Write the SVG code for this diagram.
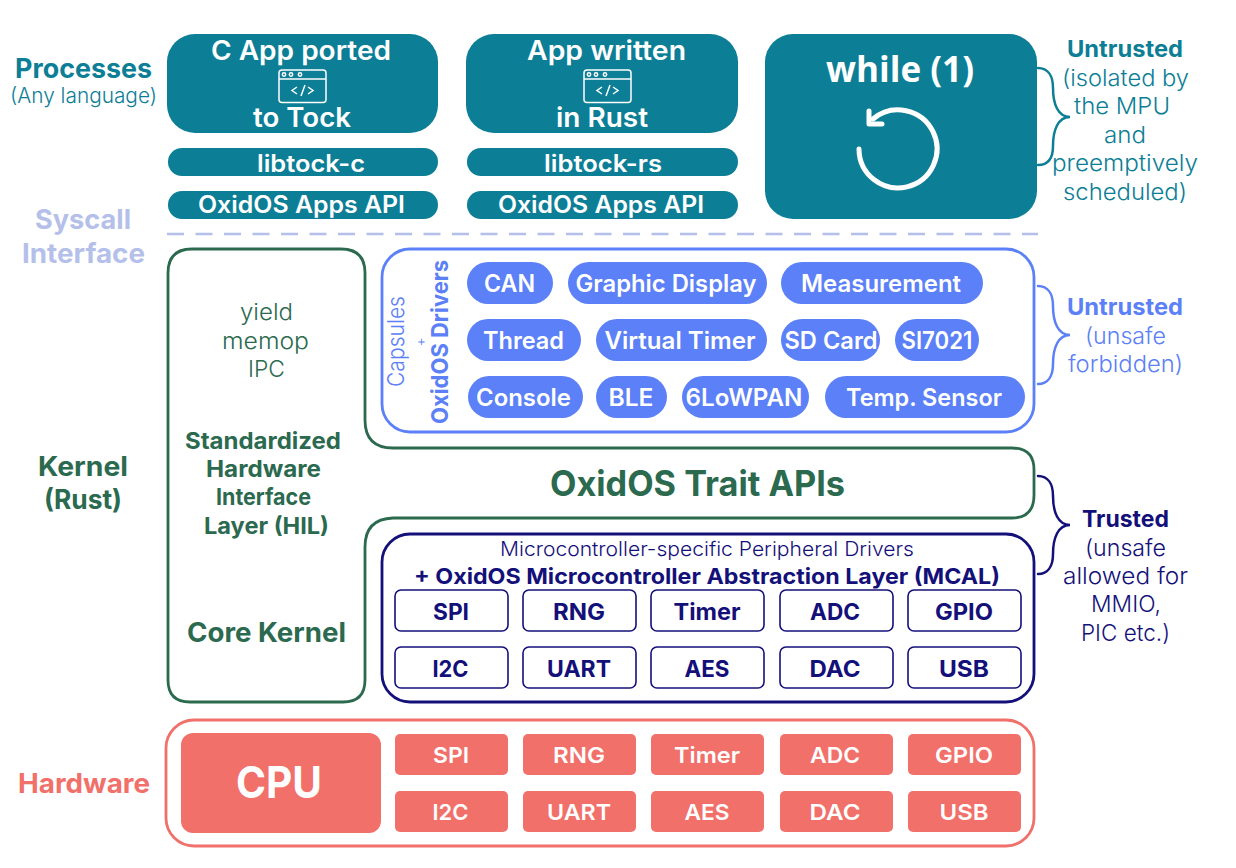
<svg xmlns="http://www.w3.org/2000/svg" width="1236" height="868" viewBox="0 0 1236 868">
<style>
text{font-family:"Inter","Lato","Liberation Sans",sans-serif;text-anchor:middle}
.b{font-weight:700}.s{font-weight:600}.l{font-weight:300}
.w{fill:#fff}
.teal{fill:#0c7e96}.blue{fill:#5b80f7}.navy{fill:#14107a}.green{fill:#2b6a4f}.red{fill:#f1706a}.peri{fill:#b5c0ea}
.f27{font-size:27px}.f24{font-size:24px}.f23{font-size:23px}.f22{font-size:22px}.f21{font-size:21px}
.box{fill:none;stroke-width:2.800}
.mb{fill:#fff;stroke:#14107a;stroke-width:1.600}
.brace{fill:none;stroke-width:2.500;stroke-linecap:round}
</style>
<rect width="1236" height="868" fill="#fff"/>

<g id="side-labels">
<text x="83.500" y="78" class="b teal f27" textLength="137" lengthAdjust="spacingAndGlyphs">Processes</text>
<text x="83.500" y="103" class="l teal f21" textLength="147" lengthAdjust="spacingAndGlyphs">(Any language)</text>
<text x="83" y="229" class="b peri f27" textLength="96" lengthAdjust="spacingAndGlyphs">Syscall</text>
<text x="83.500" y="262.500" class="b peri f27" textLength="123" lengthAdjust="spacingAndGlyphs">Interface</text>
<text x="83" y="475.500" class="b green f27" textLength="90" lengthAdjust="spacingAndGlyphs">Kernel</text>
<text x="83" y="508.500" class="b green f27" textLength="78" lengthAdjust="spacingAndGlyphs">(Rust)</text>
<text x="84" y="793" class="b red f27" textLength="132" lengthAdjust="spacingAndGlyphs">Hardware</text>
</g>

<g id="proc-c">
<rect x="167" y="34" width="271" height="99" rx="28" fill="#0c7e96"/>
<text x="301" y="60" class="s w f27" textLength="180" lengthAdjust="spacingAndGlyphs">C App ported</text>
<text x="302" y="127" class="s w f27" textLength="98" lengthAdjust="spacingAndGlyphs">to Tock</text>
<g fill="none" stroke="#fff" stroke-width="1.500"><rect x="279" y="70" width="47" height="32.500" rx="3"/><path d="M279 79H326"/><circle cx="284" cy="74.500" r="1.700"/><circle cx="291" cy="74.500" r="1.700"/><circle cx="300" cy="74.500" r="1.700"/><path d="M297 87l-5 3.500 5 3.500M308 87l5 3.500-5 3.500M305 85l-4 11"/></g>
</g>
<g id="libtock-c"><rect x="168" y="148" width="270" height="28" rx="14" fill="#0c7e96"/><text x="311" y="172" class="s w f24" textLength="108" lengthAdjust="spacingAndGlyphs">libtock-c</text></g>
<g id="api-c"><rect x="168" y="191" width="270" height="28" rx="14" fill="#0c7e96"/><text x="301.500" y="213" class="s w f24" textLength="207" lengthAdjust="spacingAndGlyphs">OxidOS Apps API</text></g>

<g id="proc-rust">
<rect x="466" y="34" width="272" height="99" rx="28" fill="#0c7e96"/>
<text x="606.500" y="60" class="s w f27" textLength="159" lengthAdjust="spacingAndGlyphs">App written</text>
<text x="602" y="127" class="s w f27" textLength="92" lengthAdjust="spacingAndGlyphs">in Rust</text>
<g fill="none" stroke="#fff" stroke-width="1.500"><rect x="584" y="70" width="47" height="32.500" rx="3"/><path d="M584 79H631"/><circle cx="589" cy="74.500" r="1.700"/><circle cx="596" cy="74.500" r="1.700"/><circle cx="605" cy="74.500" r="1.700"/><path d="M602 87l-5 3.500 5 3.500M613 87l5 3.500-5 3.500M610 85l-4 11"/></g>
</g>
<g id="libtock-rs"><rect x="467" y="148" width="271" height="28" rx="14" fill="#0c7e96"/><text x="603" y="172" class="s w f24" textLength="118" lengthAdjust="spacingAndGlyphs">libtock-rs</text></g>
<g id="api-rs"><rect x="467" y="191" width="271" height="28" rx="14" fill="#0c7e96"/><text x="601" y="213" class="s w f24" textLength="206" lengthAdjust="spacingAndGlyphs">OxidOS Apps API</text></g>

<g id="proc-while">
<rect x="765" y="34" width="272" height="185" rx="28" fill="#0c7e96"/>
<text x="900" y="82" fill="#fff" font-size="35" font-weight="700" style="font-family:'Open Sans',sans-serif" textLength="148" lengthAdjust="spacing">while (1)</text>
<g fill="none" stroke="#fff" stroke-width="5" stroke-linecap="round" stroke-linejoin="round"><path d="M859 149A39 39 0 1 0 873 119"/><path d="M869 111V124H882"/></g>
</g>

<g id="syscall-line"><path d="M167 234H1038" fill="none" stroke="#b5c0ea" stroke-width="2.500" stroke-dasharray="17 11.500"/></g>

<g id="kernel">
<path class="box" stroke="#2b6a4f" d="M192 249H341Q365 249 365 273V420Q365 448 393 448H1012Q1034 448 1034 470V495Q1034 518 1012 518H393Q365 519 365 547V680Q365 702 343 702H190Q168 702 168 680V273Q168 249 192 249Z"/>
<text x="266.500" y="320" class="l green f23" textLength="53" lengthAdjust="spacingAndGlyphs">yield</text>
<text x="265.500" y="349" class="l green f23" textLength="87" lengthAdjust="spacingAndGlyphs">memop</text>
<text x="266.500" y="377" class="l green f23" textLength="37" lengthAdjust="spacingAndGlyphs">IPC</text>
<text x="263" y="449" class="b green f23" textLength="156" lengthAdjust="spacingAndGlyphs">Standardized</text>
<text x="263.500" y="477" class="b green f23" textLength="115" lengthAdjust="spacingAndGlyphs">Hardware</text>
<text x="263.500" y="505" class="b green f23" textLength="95" lengthAdjust="spacingAndGlyphs">Interface</text>
<text x="266.500" y="534" class="b green f23" textLength="125" lengthAdjust="spacingAndGlyphs">Layer (HIL)</text>
<text x="266.500" y="642" class="b green f27" textLength="159" lengthAdjust="spacingAndGlyphs">Core Kernel</text>
<text x="697.500" y="496" class="b green" font-size="35" textLength="295" lengthAdjust="spacingAndGlyphs">OxidOS Trait APIs</text>
</g>

<g id="capsules">
<rect class="box" stroke="#5b80f7" x="382" y="249" width="652" height="183" rx="28"/>
<text transform="translate(404 341.500) rotate(-90)" class="l blue f23" textLength="91" lengthAdjust="spacingAndGlyphs">Capsules</text>
<text transform="translate(425 342) rotate(-90)" class="l blue" font-size="14">+</text>
<text transform="translate(448 342) rotate(-90)" class="b blue" font-size="23" textLength="164" lengthAdjust="spacingAndGlyphs">OxidOS Drivers</text>
</g>
<g id="can"><rect x="467" y="262" width="86" height="42" rx="21" fill="#5b80f7"/><text x="509.500" y="292" class="s w f24" textLength="51" lengthAdjust="spacingAndGlyphs">CAN</text></g>
<g id="graphic-display"><rect x="568" y="262" width="199" height="42" rx="21" fill="#5b80f7"/><text x="666" y="292" class="s w f24" textLength="181" lengthAdjust="spacingAndGlyphs">Graphic Display</text></g>
<g id="measurement"><rect x="781" y="262" width="202" height="42" rx="21" fill="#5b80f7"/><text x="881" y="292" class="s w f24" textLength="160" lengthAdjust="spacingAndGlyphs">Measurement</text></g>
<g id="thread"><rect x="467" y="319" width="114" height="42" rx="21" fill="#5b80f7"/><text x="523.500" y="349" class="s w f24" textLength="81" lengthAdjust="spacingAndGlyphs">Thread</text></g>
<g id="virtual-timer"><rect x="596" y="319" width="171" height="42" rx="21" fill="#5b80f7"/><text x="680" y="349" class="s w f24" textLength="151" lengthAdjust="spacingAndGlyphs">Virtual Timer</text></g>
<g id="sd-card"><rect x="781" y="319" width="99" height="42" rx="21" fill="#5b80f7"/><text x="831" y="349" class="s w f24" textLength="93" lengthAdjust="spacingAndGlyphs">SD Card</text></g>
<g id="si7021"><rect x="895" y="319" width="84" height="42" rx="21" fill="#5b80f7"/><text x="937" y="349" class="s w f24" textLength="71" lengthAdjust="spacingAndGlyphs">SI7021</text></g>
<g id="console"><rect x="468" y="376" width="115" height="42" rx="21" fill="#5b80f7"/><text x="523.500" y="406" class="s w f24" textLength="95" lengthAdjust="spacingAndGlyphs">Console</text></g>
<g id="ble"><rect x="596" y="376" width="71" height="42" rx="21" fill="#5b80f7"/><text x="631" y="406" class="s w f24" textLength="45" lengthAdjust="spacingAndGlyphs">BLE</text></g>
<g id="6lowpan"><rect x="682" y="376" width="127" height="42" rx="21" fill="#5b80f7"/><text x="744" y="406" class="s w f24" textLength="117" lengthAdjust="spacingAndGlyphs">6LoWPAN</text></g>
<g id="temp-sensor"><rect x="825" y="376" width="200" height="42" rx="21" fill="#5b80f7"/><text x="924" y="406" class="s w f24" textLength="156" lengthAdjust="spacingAndGlyphs">Temp. Sensor</text></g>

<g id="mcal">
<rect class="box" stroke="#14107a" x="382" y="534" width="652" height="168" rx="28"/>
<text x="707" y="556" class="l navy" font-size="20" textLength="414" lengthAdjust="spacingAndGlyphs">Microcontroller-specific Peripheral Drivers</text>
<text x="707" y="584" class="b navy" font-size="22" textLength="586" lengthAdjust="spacingAndGlyphs">+ OxidOS Microcontroller Abstraction Layer (MCAL)</text>
</g>
<g id="m-spi"><rect class="mb" x="395" y="590" width="113" height="41" rx="6"/><text x="451" y="620" class="b navy f23" textLength="36" lengthAdjust="spacingAndGlyphs">SPI</text></g>
<g id="m-rng"><rect class="mb" x="523" y="590" width="113" height="41" rx="6"/><text x="579" y="620" class="b navy f23" textLength="52" lengthAdjust="spacingAndGlyphs">RNG</text></g>
<g id="m-timer"><rect class="mb" x="651" y="590" width="113" height="41" rx="6"/><text x="707" y="620" class="b navy f23" textLength="67" lengthAdjust="spacingAndGlyphs">Timer</text></g>
<g id="m-adc"><rect class="mb" x="780" y="590" width="113" height="41" rx="6"/><text x="835" y="620" class="b navy f23" textLength="50" lengthAdjust="spacingAndGlyphs">ADC</text></g>
<g id="m-gpio"><rect class="mb" x="908" y="590" width="113" height="41" rx="6"/><text x="964" y="620" class="b navy f23" textLength="58" lengthAdjust="spacingAndGlyphs">GPIO</text></g>
<g id="m-i2c"><rect class="mb" x="395" y="647" width="113" height="41" rx="6"/><text x="450.500" y="677" class="b navy f23" textLength="36" lengthAdjust="spacingAndGlyphs">I2C</text></g>
<g id="m-uart"><rect class="mb" x="523" y="647" width="113" height="41" rx="6"/><text x="579" y="677" class="b navy f23" textLength="64" lengthAdjust="spacingAndGlyphs">UART</text></g>
<g id="m-aes"><rect class="mb" x="651" y="647" width="113" height="41" rx="6"/><text x="707" y="677" class="b navy f23" textLength="45" lengthAdjust="spacingAndGlyphs">AES</text></g>
<g id="m-dac"><rect class="mb" x="780" y="647" width="113" height="41" rx="6"/><text x="835" y="677" class="b navy f23" textLength="51" lengthAdjust="spacingAndGlyphs">DAC</text></g>
<g id="m-usb"><rect class="mb" x="908" y="647" width="113" height="41" rx="6"/><text x="964" y="677" class="b navy f23" textLength="50" lengthAdjust="spacingAndGlyphs">USB</text></g>

<g id="hardware"><rect class="box" stroke="#f1706a" x="166" y="720" width="868" height="126" rx="28"/></g>
<g id="cpu"><rect x="181" y="733" width="200" height="100" rx="12" fill="#f1706a"/><text x="279" y="798" class="b w" font-size="44" textLength="86" lengthAdjust="spacingAndGlyphs">CPU</text></g>
<g fill="#f1706a">
<g id="h-spi"><rect x="395" y="734" width="113" height="41" rx="5"/><text x="451" y="763" class="s w f22" textLength="36" lengthAdjust="spacingAndGlyphs">SPI</text></g>
<g id="h-rng"><rect x="523" y="734" width="113" height="41" rx="5"/><text x="579" y="763" class="s w f22" textLength="52" lengthAdjust="spacingAndGlyphs">RNG</text></g>
<g id="h-timer"><rect x="651" y="734" width="113" height="41" rx="5"/><text x="707" y="763" class="s w f22" textLength="66" lengthAdjust="spacingAndGlyphs">Timer</text></g>
<g id="h-adc"><rect x="780" y="734" width="113" height="41" rx="5"/><text x="835" y="763" class="s w f22" textLength="50" lengthAdjust="spacingAndGlyphs">ADC</text></g>
<g id="h-gpio"><rect x="908" y="734" width="113" height="41" rx="5"/><text x="964" y="763" class="s w f22" textLength="58" lengthAdjust="spacingAndGlyphs">GPIO</text></g>
<g id="h-i2c"><rect x="395" y="791" width="113" height="41" rx="5"/><text x="450.500" y="820" class="s w f22" textLength="36" lengthAdjust="spacingAndGlyphs">I2C</text></g>
<g id="h-uart"><rect x="523" y="791" width="113" height="41" rx="5"/><text x="579" y="820" class="s w f22" textLength="64" lengthAdjust="spacingAndGlyphs">UART</text></g>
<g id="h-aes"><rect x="651" y="791" width="113" height="41" rx="5"/><text x="707" y="820" class="s w f22" textLength="45" lengthAdjust="spacingAndGlyphs">AES</text></g>
<g id="h-dac"><rect x="780" y="791" width="113" height="41" rx="5"/><text x="835" y="820" class="s w f22" textLength="51" lengthAdjust="spacingAndGlyphs">DAC</text></g>
<g id="h-usb"><rect x="908" y="791" width="113" height="41" rx="5"/><text x="964" y="820" class="s w f22" textLength="49" lengthAdjust="spacingAndGlyphs">USB</text></g>
</g>

<g id="connectors">
<path class="brace" stroke="#0c7e96" d="M1038 68C1048 68 1053 76 1053 88C1053 104 1058 117 1070 117C1058 117 1053 130 1053 146C1053 158 1048 165 1038 165"/>
<path class="brace" stroke="#5b80f7" d="M1038 286C1048 286 1053 294 1053 306C1053 322 1058 335 1070 335C1058 335 1053 348 1053 364C1053 376 1048 384 1038 384"/>
<path class="brace" stroke="#14107a" d="M1038 476C1048 476 1053 484 1053 496C1053 512 1058 525 1070 525C1058 525 1053 538 1053 554C1053 566 1048 574 1038 574"/>
</g>

<g id="trust-labels">
<text x="1125" y="57" class="b teal f23" textLength="116" lengthAdjust="spacingAndGlyphs">Untrusted</text>
<text x="1125.500" y="86" class="l teal f23" textLength="127" lengthAdjust="spacingAndGlyphs">(isolated by</text>
<text x="1122" y="114" class="l teal f23" textLength="96" lengthAdjust="spacingAndGlyphs">the MPU</text>
<text x="1125" y="143" class="l teal f23" textLength="42" lengthAdjust="spacingAndGlyphs">and</text>
<text x="1125" y="171" class="l teal f23" textLength="146" lengthAdjust="spacingAndGlyphs">preemptively</text>
<text x="1125" y="200" class="l teal f23" textLength="124" lengthAdjust="spacingAndGlyphs">scheduled)</text>
<text x="1125" y="315" class="b blue f23" textLength="116" lengthAdjust="spacingAndGlyphs">Untrusted</text>
<text x="1125.500" y="344" class="l blue f23" textLength="81" lengthAdjust="spacingAndGlyphs">(unsafe</text>
<text x="1125.500" y="372" class="l blue f23" textLength="115" lengthAdjust="spacingAndGlyphs">forbidden)</text>
<text x="1125.500" y="527" class="b navy f23" textLength="87" lengthAdjust="spacingAndGlyphs">Trusted</text>
<text x="1125.500" y="556" class="l navy f23" textLength="81" lengthAdjust="spacingAndGlyphs">(unsafe</text>
<text x="1125.500" y="584" class="l navy f23" textLength="125" lengthAdjust="spacingAndGlyphs">allowed for</text>
<text x="1126" y="612" class="l navy f23" textLength="70" lengthAdjust="spacingAndGlyphs">MMIO,</text>
<text x="1125.500" y="641" class="l navy f23" textLength="89" lengthAdjust="spacingAndGlyphs">PIC etc.)</text>
</g>
</svg>
